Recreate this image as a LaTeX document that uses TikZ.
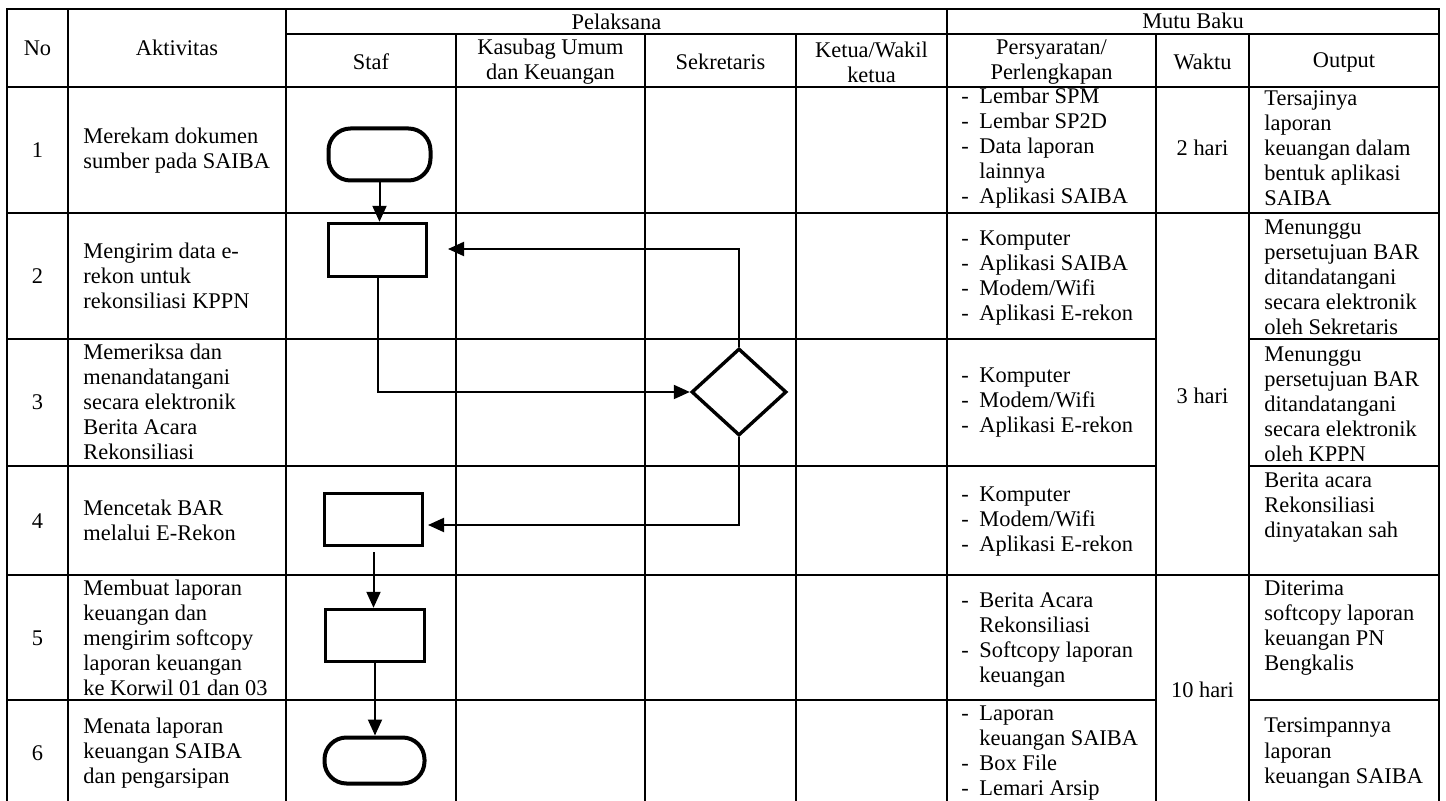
\documentclass[tikz,border=0pt]{standalone}
\usepackage{fontspec}
\setmainfont{Liberation Serif}
\usetikzlibrary{arrows.meta,shapes.geometric}
\newcommand\dsh{\makebox[9pt][l]{-}}
\newcommand\ind{\hspace*{9pt}}
\begin{document}
\begin{tikzpicture}[x=0.5pt,y=-0.5pt,
  grid/.style={line width=1pt, line cap=rect},
  txt/.style={inner sep=0pt, font=\fontsize{11.2}{12.5}\selectfont},
  ctxt/.style={txt, align=center},
  ltxt/.style={txt, align=left, anchor=west},
  term/.style={draw, line width=2pt, rounded corners=11pt, inner sep=0pt},
  proc/.style={draw, line width=1.7pt, inner sep=0pt},
  dec/.style={draw, diamond, line width=1.7pt, inner sep=0pt},
  flow/.style={line width=1pt, -{Triangle[length=8pt,width=7pt]}},
]
\useasboundingbox (0,0) rectangle (1446,801);
\fill[white] (0,0) rectangle (1446,801);

% grid
\draw[grid] (7,9) -- (1439,9);
\draw[grid] (286,34) -- (1439,34);
\draw[grid] (7,87) -- (1439,87);
\draw[grid] (7,213) -- (1439,213);
\draw[grid] (7,575) -- (1439,575);
\foreach \y in {339,466,700} \draw[grid] (7,\y) -- (1156,\y) (1249,\y) -- (1439,\y);
\foreach \x in {7,68,286,947,1439} \draw[grid] (\x,9) -- (\x,801);
\foreach \x in {456,645,796,1156,1249} \draw[grid] (\x,34) -- (\x,801);

% header
\node[ctxt] (hNo) at (37.5,48) {No};
\node[ctxt] (hAkt) at (177,48) {Aktivitas};
\node[ctxt] (hPel) at (616.5,22) {Pelaksana};
\node[ctxt] (hMutu) at (1193,21) {Mutu Baku};
\node[ctxt] (hStaf) at (371,62) {Staf};
\node[ctxt] (hKas) at (550.5,62) {Kasubag Umum\\dan Keuangan};
\node[ctxt] (hSek) at (720.5,62) {Sekretaris};
\node[ctxt] (hKet) at (871.5,62) {Ketua/Wakil\\ketua};
\node[ctxt] (hPer) at (1051.5,62) {Persyaratan/\\Perlengkapan};
\node[ctxt] (hWak) at (1202.5,62) {Waktu};
\node[ctxt] (hOut) at (1344,62) {Output};

% numbers
\node[ctxt] (n1) at (37.5,150) {1};
\node[ctxt] (n2) at (37.5,276) {2};
\node[ctxt] (n3) at (37.5,402) {3};
\node[ctxt] (n4) at (37.5,521) {4};
\node[ctxt] (n5) at (37.5,638) {5};
\node[ctxt] (n6) at (37.5,753) {6};

% aktivitas
\node[ltxt] (a1) at (83,151) {Merekam dokumen\\sumber pada SAIBA};
\node[ltxt] (a2) at (83,276) {Mengirim data e-\\rekon untuk\\rekonsiliasi KPPN};
\node[ltxt] (a3) at (83,402) {Memeriksa dan\\menandatangani\\secara elektronik\\Berita Acara\\Rekonsiliasi};
\node[ltxt] (a4) at (83,520) {Mencetak BAR\\melalui E-Rekon};
\node[ltxt] (a5) at (83,638) {Membuat laporan\\keuangan dan\\mengirim softcopy\\laporan keuangan\\ke Korwil 01 dan 03};
\node[ltxt] (a6) at (83,753) {Menata laporan\\keuangan SAIBA\\dan pengarsipan};

% persyaratan
\node[ltxt] (p1) at (961,148) {\dsh Lembar SPM\\\dsh Lembar SP2D\\\dsh Data laporan\\\ind lainnya\\\dsh Aplikasi SAIBA};
\node[ltxt] (p2) at (961,278) {\dsh Komputer\\\dsh Aplikasi SAIBA\\\dsh Modem/Wifi\\\dsh Aplikasi E-rekon};
\node[ltxt] (p3) at (961,403) {\dsh Komputer\\\dsh Modem/Wifi\\\dsh Aplikasi E-rekon};
\node[ltxt] (p4) at (961,522) {\dsh Komputer\\\dsh Modem/Wifi\\\dsh Aplikasi E-rekon};
\node[ltxt] (p5) at (961,640) {\dsh Berita Acara\\\ind Rekonsiliasi\\\dsh Softcopy laporan\\\ind keuangan};
\node[ltxt] (p6) at (961,753) {\dsh Laporan\\\ind keuangan SAIBA\\\dsh Box File\\\dsh Lemari Arsip};

% waktu
\node[ctxt] (w1) at (1202.5,148) {2 hari};
\node[ctxt] (w2) at (1202.5,396) {3 hari};
\node[ctxt] (w3) at (1202.5,690) {10 hari};

% output
\node[ltxt] (o1) at (1264,148) {Tersajinya\\laporan\\keuangan dalam\\bentuk aplikasi\\SAIBA};
\node[ltxt] (o2) at (1264,277) {Menunggu\\persetujuan BAR\\ditandatangani\\secara elektronik\\oleh Sekretaris};
\node[ltxt] (o3) at (1264,404) {Menunggu\\persetujuan BAR\\ditandatangani\\secara elektronik\\oleh KPPN};
\node[ltxt] (o4) at (1264,508) {Berita acara\\Rekonsiliasi\\dinyatakan sah};
\node[ltxt] (o5) at (1264,628) {Diterima\\softcopy laporan\\keuangan PN\\Bengkalis};
\node[ltxt] (o6) at (1264,753) {Tersimpannya\\laporan\\keuangan SAIBA};

% flowchart shapes
\node[term, minimum width=51pt, minimum height=26pt] (T1) at (379.5,154.5) {};
\node[proc, minimum width=49pt, minimum height=26.5pt] (R2) at (377.5,250) {};
\node[dec, minimum width=47.5pt, minimum height=43.5pt] (D) at (739,392) {};
\node[proc, minimum width=49pt, minimum height=26pt] (R4) at (373.5,519.5) {};
\node[proc, minimum width=49.5pt, minimum height=26pt] (R5) at (375,635.5) {};
\node[term, minimum width=50pt, minimum height=23pt] (T6) at (374.5,760.5) {};
\coordinate (c3) at (448,249);
\coordinate (c4) at (428,525);

% connectors
\draw[flow] (T1.south) -- (T1.south |- R2.north);
\draw[flow] (R2.south) |- (D.west);
\draw[flow] (D.north) |- (c3);
\draw[flow] (D.south) |- (c4);
\draw[flow, shorten <=2.5pt] (R4.south) -- (R4.south |- R5.north);
\draw[flow] (R5.south) -- (R5.south |- T6.north);
\end{tikzpicture}
\end{document}
